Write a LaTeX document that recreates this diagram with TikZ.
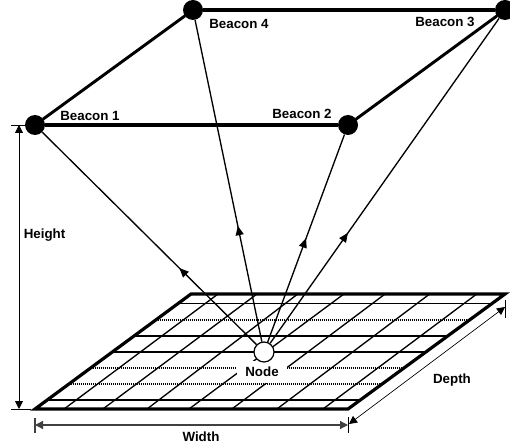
\documentclass[tikz,border=0pt]{standalone}
\usepackage{fontspec}
\setmainfont{Liberation Sans}
\usepackage{xcolor}
\usetikzlibrary{arrows.meta,calc,decorations.markings}
\definecolor{ink}{HTML}{000000}
\definecolor{dimgrey}{HTML}{404040}
\tikzset{
  beacon/.style={circle, fill=ink, draw=none, minimum size=15pt, inner sep=0pt},
  sensor/.style={circle, fill=white, draw=ink, line width=0.9pt, minimum size=15pt, inner sep=0pt},
  caption/.style={font=\fontsize{10pt}{11pt}\selectfont\bfseries, inner sep=0pt, text=ink},
  frame/.style={line width=2.2pt, draw=ink, line cap=round},
  flatframe/.style={line width=2.7pt, draw=ink},
  rim/.style={line width=2.4pt, draw=ink, line cap=round},
  cross/.style={line width=1pt, draw=ink},
  row/.style={line width=1.3pt, draw=ink, dash pattern=on 1.1pt off 0.4pt},
  tick/.style={line width=0.6pt, draw=ink},
  dimarrow/.style={{Triangle[length=6pt,width=6pt]}-{Triangle[length=6pt,width=6pt]}, line width=0.6pt, draw=ink},
  signal/.style={line width=1pt, draw=ink, postaction={decorate}, decoration={markings,
      mark=at position #1 with {\arrow{Triangle[length=7pt,width=6pt]}}}}
}
\begin{document}
\begin{tikzpicture}[x=0.75pt,y=-0.75pt]
  \useasboundingbox (0,0) rectangle (510,445);
  % floor corners
  \coordinate (fl) at (35,409);
  \coordinate (fr) at (348,409);
  \coordinate (br) at (505,294);
  \coordinate (bl) at (191,294);
  % grid
  \foreach \rowpos in {.078,.217,.356,.496,.635,.774,.917}
    \draw[row] ($(fl)!\rowpos!(bl)$) -- ($(fr)!\rowpos!(br)$);
  \foreach \low/\high in {.093/.086,.217/.21,.358/.34,.492/.487,.629/.618,.773/.76,.92/.91}
    \draw[cross] ($(fl)!\low!(fr)$) -- ($(bl)!\high!(br)$);
  \draw[rim] (fl) -- (fr) -- (br) -- (bl) -- cycle;

  \node[caption,fill=white,minimum width=37.5pt,minimum height=16.5pt] (nodelabel) at (262,372) {Node};
  \node[sensor] (sensor) at (264,352) {};

  \node[beacon] (b1) at (35,125) {};
  \node[beacon] (b2) at (348,125) {};
  \node[beacon] (b3) at (505,10) {};
  \node[beacon] (b4) at (193,10) {};
  \draw[flatframe] (b1) -- (b2);
  \draw[frame] (b2) -- (b3);
  \draw[flatframe] (b3) -- (b4);
  \draw[frame] (b4) -- (b1);

  \foreach \bname/\tippos in {b1/.36,b2/.50,b3/.34,b4/.36}
    \draw[signal=\tippos] (sensor) -- (\bname);

  \node[caption] (lab1) at (90,115.5) {Beacon 1};
  \node[caption] (lab2) at (302,113.5) {Beacon 2};
  \node[caption] (lab3) at (445,21.5) {Beacon 3};
  \node[caption] (lab4) at (239,23.5) {Beacon 4};

  % dimensions
  \coordinate (ha) at (11,125);
  \coordinate (hb) at (25,125);
  \coordinate (hc) at (11,409);
  \coordinate (hd) at (31,409);
  \draw[tick] (ha) -- (hb);
  \draw[tick] (hc) -- (hd);
  \draw[dimarrow] (19,125) coordinate (htop) -- (19,409) coordinate (hbot);
  \node[caption] (heightlab) at (44.5,235) {Height};

  \coordinate (wa) at (35,418);
  \coordinate (wb) at (35,433);
  \coordinate (wc) at (348,417);
  \coordinate (wd) at (348,433);
  \draw[tick,line width=0.9pt,draw=dimgrey] (wa) -- (wb);
  \draw[tick] (wc) -- (wd);
  \draw[dimarrow,line width=1pt,draw=dimgrey] (35,425) coordinate (wl) -- (348,425) coordinate (wr);
  \node[caption] (widthlab) at (201,437) {Width};

  \coordinate (da) at (505,300);
  \coordinate (db) at (505,318);
  \draw[tick] (da) -- (db);
  \draw[dimarrow,line width=0.5pt] (349,424) coordinate (dl) -- (505,307) coordinate (dr);
  \node[caption] (depthlab) at (452,380) {Depth};
\end{tikzpicture}
\end{document}
